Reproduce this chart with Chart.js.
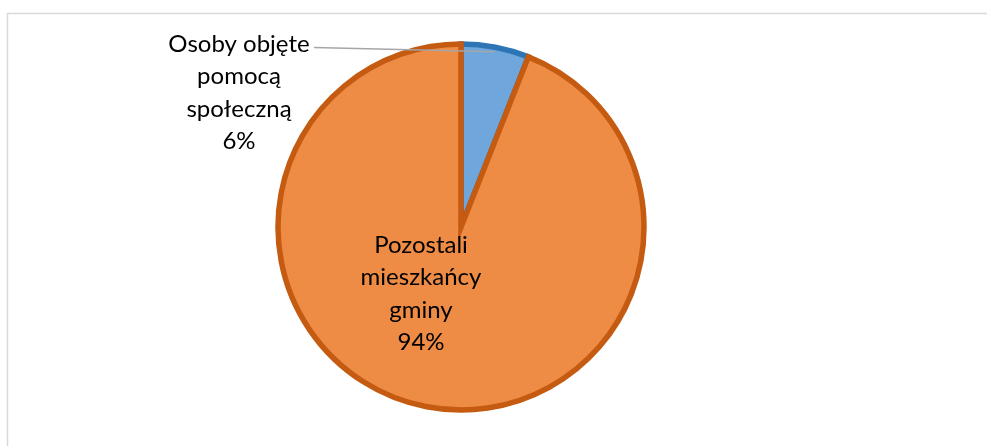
<!DOCTYPE html>
<html>
<head>
<meta charset="utf-8">
<script src="https://cdn.jsdelivr.net/npm/chart.js@4/dist/chart.umd.min.js"></script>
<style>
html,body{margin:0;padding:0;background:#fff;}
#wrap{width:987px;height:446px;position:relative;}
</style>
</head>
<body>
<div id="wrap"><canvas id="c" width="987" height="446"></canvas></div>
<script>
const categories = [["Osoby objęte", "pomocą", "społeczną"], ["Pozostali", "mieszkańcy", "gminy"]];
const values = [6, 94];
const percentLabels = ["6%", "94%"];
const fillColors = ["#6FA7DC", "#EE8B45"];
const borderColors = ["#2E75B6", "#C55A11"];

const FONT = "Lato, 'Liberation Sans', sans-serif";

const framePlugin = {
  id: 'frame',
  beforeDraw(chart) {
    const ctx = chart.ctx;
    ctx.save();
    ctx.fillStyle = '#fff';
    ctx.fillRect(0, 0, chart.width, chart.height);
    ctx.strokeStyle = '#D9D9D9';
    ctx.lineWidth = 1.5;
    ctx.beginPath();
    ctx.moveTo(7.5, chart.height + 5);
    ctx.lineTo(7.5, 13.5);
    ctx.lineTo(chart.width + 5, 13.5);
    ctx.stroke();
    ctx.restore();
  }
};

const labelPlugin = {
  id: 'pieLabels',
  afterDatasetsDraw(chart) {
    const ctx = chart.ctx;
    const meta = chart.getDatasetMeta(0);
    ctx.save();
    ctx.font = "24px " + FONT;
    ctx.fillStyle = '#000';
    ctx.textAlign = 'center';
    ctx.textBaseline = 'middle';
    const lh = 32.5;
    const a0 = meta.data[0];
    const mid0 = (a0.startAngle + a0.endAngle) / 2;
    const r0 = a0.outerRadius * 0.975;
    const ex = a0.x + Math.cos(mid0) * r0;
    const ey = a0.y + Math.sin(mid0) * r0;
    ctx.strokeStyle = '#A6A6A6';
    ctx.lineWidth = 1.5;
    ctx.beginPath();
    ctx.moveTo(314, 47.5);
    ctx.lineTo(ex, ey);
    ctx.stroke();
    const l0 = categories[0].concat([percentLabels[0]]);
    l0.forEach((t, i) => ctx.fillText(t, 239, 44 + i * lh));
    const l1 = categories[1].concat([percentLabels[1]]);
    l1.forEach((t, i) => ctx.fillText(t, 421, 245 + i * lh));
    ctx.restore();
  }
};

new Chart(document.getElementById('c'), {
  type: 'pie',
  data: {
    labels: categories.map(c => c.join(' ')),
    datasets: [{
      data: values,
      backgroundColor: fillColors,
      borderColor: borderColors,
      borderWidth: 5.5,
      borderJoinStyle: 'miter',
      radius: 183
    }]
  },
  options: {
    responsive: false,
    animation: false,
    layout: { padding: { left: 276, top: 42, right: 341, bottom: 34 } },
    plugins: { legend: { display: false }, tooltip: { enabled: false } }
  },
  plugins: [framePlugin, labelPlugin]
});
</script>
</body>
</html>
